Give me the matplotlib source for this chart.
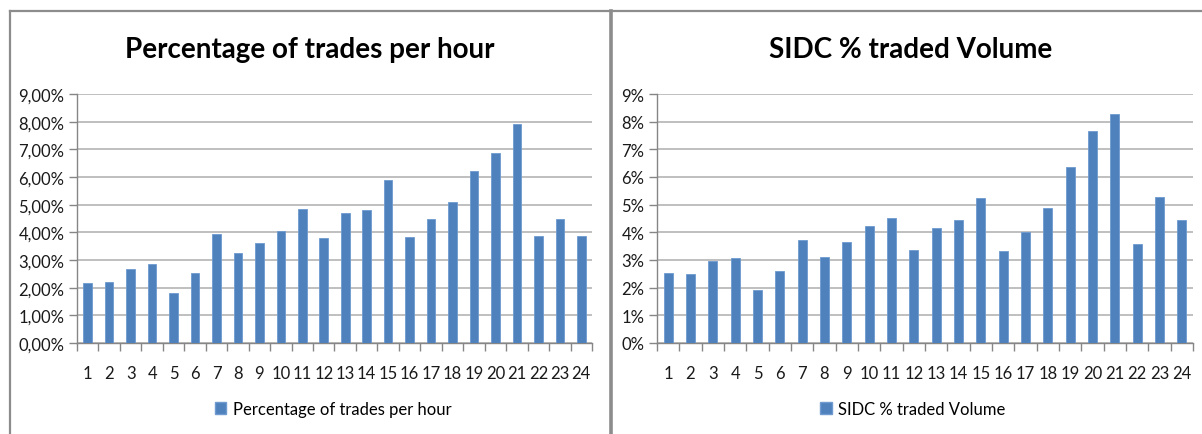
import matplotlib
matplotlib.use("Agg")
import matplotlib.pyplot as plt
from matplotlib.lines import Line2D
from matplotlib.patches import Patch

plt.rcParams['font.family'] = ['Lato', 'DejaVu Sans']

hours = list(range(1, 25))
hour_labels = [str(h) for h in hours]

# share of trades per hour (%)
trades_pct = [2.18, 2.21, 2.69, 2.86, 1.81, 2.52, 3.95, 3.25, 3.62, 4.05, 4.86, 3.80,
              4.71, 4.81, 5.88, 3.84, 4.49, 5.08, 6.23, 6.87, 7.91, 3.88, 4.49, 3.88]
# SIDC share of traded volume per hour (%)
volume_pct = [2.52, 2.49, 2.98, 3.07, 1.90, 2.62, 3.72, 3.11, 3.65, 4.23, 4.53, 3.36,
              4.14, 4.43, 5.23, 3.32, 4.00, 4.88, 6.36, 7.67, 8.29, 3.58, 5.29, 4.43]

y_ticks = list(range(0, 10))
left_ylabels = ['0,00%', '1,00%', '2,00%', '3,00%', '4,00%', '5,00%', '6,00%', '7,00%', '8,00%', '9,00%']
right_ylabels = ['0%', '1%', '2%', '3%', '4%', '5%', '6%', '7%', '8%', '9%']

titles = ['Percentage of trades per hour', 'SIDC % traded Volume']

W, H = 1202, 435
bar_color = '#4F81BD'
grid_color = '#BFBFBF'
axis_color = '#868686'
frame_color = '#8C8C8C'

fig = plt.figure(figsize=(W / 100, H / 100), dpi=100)


def px_rect(x0, y0, x1, y1):
    return [x0 / W, 1 - y1 / H, (x1 - x0) / W, (y1 - y0) / H]


def draw_panel(rect, values, ylabels, title, title_x, legend_x):
    ax = fig.add_axes(px_rect(*rect))
    ax.bar(hours, values, width=0.4, color=bar_color, edgecolor='#6F9BD0', linewidth=0.6, zorder=3)
    ax.set_xlim(0.5, 24.5)
    ax.set_ylim(0, 9)
    ax.set_yticks(y_ticks)
    ax.set_yticklabels(ylabels)
    ax.set_xticks(hours)
    ax.set_xticklabels(hour_labels)
    ax.set_xticks([h + 0.5 for h in range(0, 25)], minor=True)
    ax.tick_params(axis='x', which='major', length=0, pad=16, labelsize=12, labelcolor='#1A1A1A')
    ax.tick_params(axis='x', which='minor', length=6, color=axis_color, width=1)
    ax.tick_params(axis='y', length=6, color=axis_color, width=1, pad=3, labelsize=12, labelcolor='#1A1A1A')
    ax.grid(axis='y', color=grid_color, linewidth=1.4, zorder=0)
    for s in ['top', 'right']:
        ax.spines[s].set_visible(False)
    for s in ['left', 'bottom']:
        ax.spines[s].set_color(axis_color)
        ax.spines[s].set_linewidth(1)
    fig.text(title_x / W, 1 - 50 / H, title, ha='center', va='center',
             fontsize=20, fontweight='bold', color='#000000')
    handle = Patch(facecolor=bar_color, edgecolor='#6F9BD0')
    fig.legend([handle], [title], loc='center', bbox_to_anchor=(legend_x / W, 1 - 410 / H),
               frameon=False, fontsize=12, handlelength=0.7, handleheight=0.7, handletextpad=0.4)
    return ax


draw_panel((77, 95, 592, 344), trades_pct, left_ylabels, titles[0], 310, 333)
draw_panel((657, 95, 1193, 344), volume_pct, right_ylabels, titles[1], 911, 913)

# chart frames
fig.add_artist(Line2D([10 / W, 1], [1 - 12 / H, 1 - 12 / H], color=frame_color, lw=1.6))
fig.add_artist(Line2D([10 / W, 10 / W], [0, 1 - 12 / H], color=frame_color, lw=1.6))
fig.add_artist(Line2D([611 / W, 611 / W], [0, 1 - 12 / H], color=frame_color, lw=2.6))

fig.savefig('out.png', dpi=100)
